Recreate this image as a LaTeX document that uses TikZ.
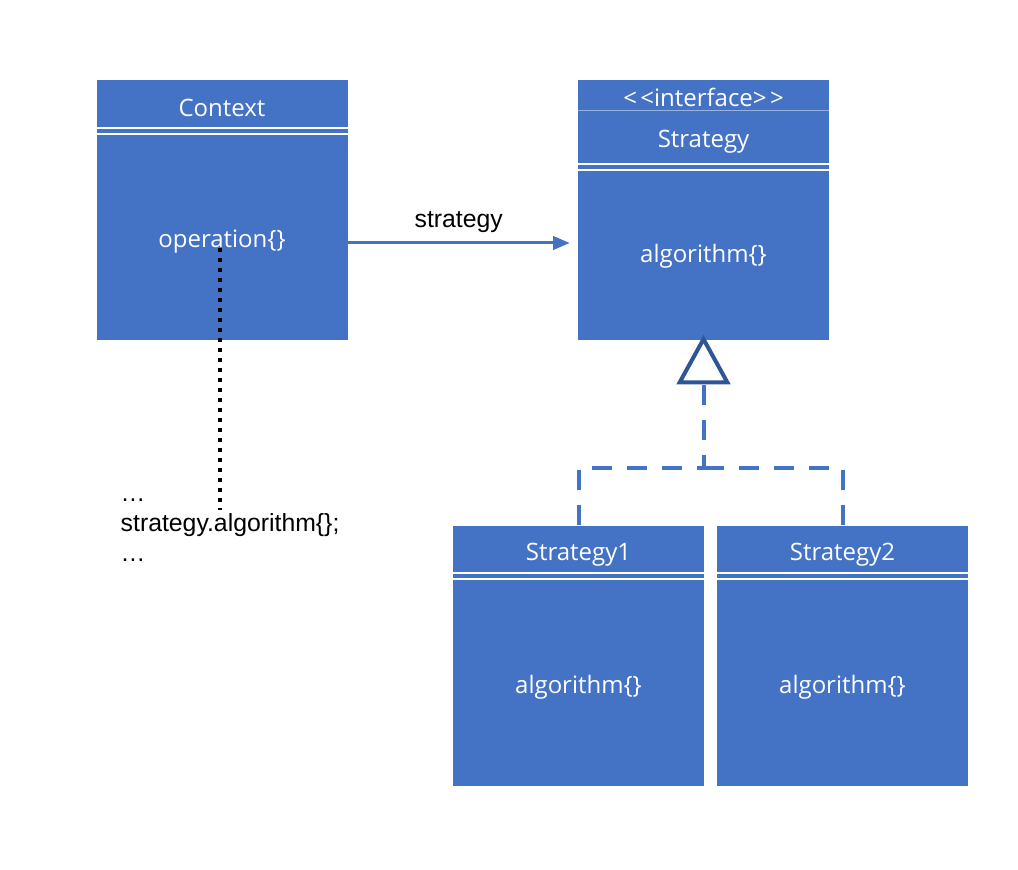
\documentclass[tikz,border=0pt]{standalone}
\usepackage{fontspec}
\setmainfont{Liberation Sans}
\newfontfamily\boxfont{Open Sans}
\usetikzlibrary{arrows.meta,positioning,calc}
\definecolor{umlblue}{RGB}{68,114,196}
\definecolor{umldark}{RGB}{47,85,151}

\begin{document}
\begin{tikzpicture}[x=0.75pt,y=-0.75pt,
    classbox/.style={fill=umlblue,minimum width=188.25pt,minimum height=195pt,inner sep=0pt},
    boxtext/.style={text=white,font=\boxfont\fontsize{18}{21}\selectfont},
    plaintext/.style={text=black,font=\fontsize{18.6}{22.5}\selectfont},
    sepline/.style={white,line width=1.5pt},
    assoc/.style={umlblue,line width=2.25pt,-{Triangle[length=12.5pt,width=10pt]}},
    realize/.style={umlblue,line width=3pt,dash pattern=on 15pt off 11.25pt},
    dotline/.style={black,line width=3pt,dash pattern=on 3pt off 4.5pt}]
      \useasboundingbox (0,0) rectangle (1018,870);

      % class boxes
      \node[classbox] (ctx) at (222,210) {};
      \node[classbox] (strat) at (703.5,210) {};
      \node[classbox] (impl1) at (578.5,655.5) {};
      \node[classbox] (impl2) at (842.5,655.5) {};

      % compartment lines
      \foreach \n/\o in {ctx/48,strat/84,impl1/48,impl2/48} {
        \draw[sepline] ($(\n.north west)+(0,\o)$) -- ($(\n.north east)+(0,\o)$);
        \draw[sepline] ($(\n.north west)+(0,\o+6)$) -- ($(\n.north east)+(0,\o+6)$);
      }
      \draw[umlblue!55!white,line width=0.75pt] ($(strat.north west)+(0,31)$) -- ($(strat.north east)+(0,31)$);

      \node[boxtext] (ctxname) at ($(ctx.north)+(0,28)$) {Context};
      \node[boxtext] (op) at ($(ctx.north)+(0,162)$) {operation\{\}};
      \node[boxtext] (stereo) at ($(strat.north)+(0,18)$) {<\kern2.5pt<interface>\kern2.5pt>};
      \node[boxtext] (stratname) at ($(strat.north)+(0,62)$) {Strategy};
      \node[boxtext] (stratop) at ($(strat.north)+(0,177)$) {algorithm\{\}};
      \node[boxtext] (impl1name) at ($(impl1.north)+(0,29)$) {Strategy1};
      \node[boxtext] (impl1op) at ($(impl1.north)+(0,162)$) {algorithm\{\}};
      \node[boxtext] (impl2name) at ($(impl2.north)+(0,29)$) {Strategy2};
      \node[boxtext] (impl2op) at ($(impl2.north)+(0,162)$) {algorithm\{\}};

      % association
      \coordinate (assocend) at ($(strat.west)+(-8,33)$);
      \draw[assoc] ($(ctx.east)+(0,33)$) -- (assocend)
        node[plaintext,midway,above=3pt] (assoclbl) {strategy};

      % note on operation
      \node[plaintext,align=left,anchor=north west] (note) at (116,494) {…\\strategy.algorithm\{\};\\…};
      \coordinate (callpt) at (220,510);
      \draw[dotline] (op.base -| callpt) -- (callpt);

      % realization
      \coordinate (join) at ($(strat.south)+(0,128)$);
      \draw[realize,shorten >=-4pt,-{Triangle[length=37pt,width=40pt,line width=3pt,color=umldark,fill=white]}]
        (impl1.north) |- (join) -- (strat.south);
      \draw[realize] (impl2.north) |- (join);
    \end{tikzpicture}
\end{document}
